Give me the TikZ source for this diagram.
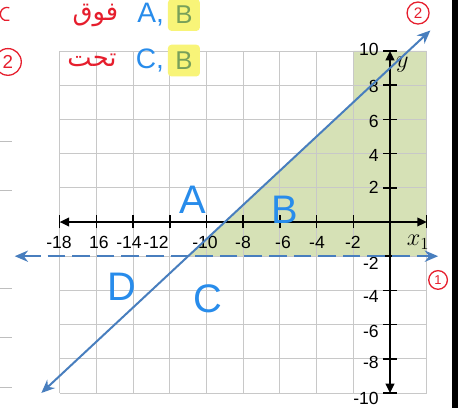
\documentclass[tikz,border=0pt]{standalone}
\usepackage{fontspec}
\setmainfont{Liberation Sans}
\newfontfamily\arabicfont[Script=Arabic]{DejaVu Sans}
\TeXXeTstate=1
\usetikzlibrary{arrows.meta,positioning}
\definecolor{gridgray}{RGB}{200,200,200}
\definecolor{regiongreen}{RGB}{214,225,182}
\definecolor{lineblue}{RGB}{72,126,190}
\definecolor{penblue}{RGB}{40,140,235}
\definecolor{penred}{RGB}{230,30,45}
\definecolor{markyellow}{RGB}{248,244,120}
\definecolor{pengreen}{RGB}{120,160,90}
\definecolor{edgegray}{RGB}{190,190,190}

\begin{document}
\begin{tikzpicture}[
    x=0.5505cm, y=0.513cm,
    gridline/.style={draw=gridgray, line width=0.8pt},
    axisline/.style={line width=1.3pt, {Triangle[length=2.8mm, width=2.6mm]}-{Triangle[length=2.8mm, width=2.6mm]}},
    tickmark/.style={line width=1.3pt},
    boundary/.style={draw=lineblue, line width=1.7pt, {Stealth[length=4mm, width=3.4mm]}-{Stealth[length=4mm, width=3.4mm]}},
    region/.style={text=penblue, font=\fontsize{34}{34}\selectfont, inner sep=0pt},
    ticklabel/.style={font=\fontsize{15}{15}\selectfont, inner sep=0pt},
    pen/.style={text=penblue, font=\fontsize{24}{24}\selectfont, inner sep=1pt},
    marker/.style={fill=markyellow, text=pengreen, rounded corners=3pt, minimum width=0.96cm, minimum height=0.95cm, font=\fontsize{22}{22}\selectfont, inner sep=0pt},
    arabic/.style={text=penred, font=\arabicfont\fontsize{22}{22}\selectfont, inner sep=1pt},
    lineno/.style={circle, draw=penred, text=penred, line width=1.1pt, inner sep=0pt},
    node distance=2pt
]
\useasboundingbox[fill=white] (-21.253,-10.877) rectangle (3.706,12.982);

\fill[regiongreen] (-11,-2) -- (2,-2) -- (2,10) -- (-2,10) -- (-2,7) -- cycle;
\draw[gridline] (-18,-10) grid[xstep=2, ystep=2] (2,10);
\foreach \y in {4.68,1.87,-3.86,-6.73,-9.65}
  \draw[draw=edgegray, line width=0.8pt] (-21.3,\y) -- (-20.6,\y);

\coordinate (xl) at (-18,0);
\coordinate (xr) at (2,0);
\coordinate (yb) at (0,-10);
\coordinate (yt) at (0,10);
\draw[axisline] (xl) -- (xr);
\draw[axisline] (yb) -- (yt);
\foreach \x in {-18,-16,...,-2,2}
  \draw[tickmark] (\x,-0.38) -- (\x,0.38);
\foreach \y in {-10,-8,...,-2,2,4,...,10}
  \draw[tickmark] (-0.36,\y) -- (0.36,\y);

\foreach \pos/\txt [count=\i] in {-18.04/-18, -15.86/16, -14.22/-14, -12.75/-12, -10.08/-10, -8.01/-8, -5.83/-6, -3.98/-4, -2.02/-2}
  \node[ticklabel] (xlab\i) at (\pos,-1.17) {\txt};
\foreach \pos/\txt [count=\i] in {10.1/10, 7.95/8, 5.9/6, 3.9/4, 2.0/2, -2.4/-2, -4.33/-4, -6.4/-6, -8.2/-8, -10.3/-10}
  \node[ticklabel, anchor=east] (ylab\i) at (-0.6,\pos) {\txt};
\node[ticklabel, font=\fontsize{21}{21}\selectfont] (xname) at (1.53,-1.17) {$x_1$};
\node[ticklabel, font=\fontsize{21}{21}\selectfont] (yname) at (0.68,9.2) {$y$};

\coordinate (l1s) at (-20.45,-2);
\coordinate (l1e) at (2.62,-2);
\coordinate (l2s) at (-19,-10);
\coordinate (l2e) at (2.2,11.2);
\draw[boundary, dash pattern=on 15pt off 6pt] (l1s) -- (l1e);
\draw[boundary] (l2s) -- (l2e);

\node[region] (regA) at (-10.74,1.29) {A};
\node[region] (regB) at (-5.72,0.70) {B};
\node[region] (regC) at (-9.92,-4.5) {C};
\node[region] (regD) at (-14.6,-3.8) {D};

\node[marker] (markB1) at (-11.23,12.1) {B};
\node[pen, left=of markB1] (txtA) {A,};
\node[arabic, left=14pt of txtA] (wordUp) {\beginR فوق\endR};
\node[marker] (markB2) at (-11.23,9.44) {B};
\node[pen, left=of markB2] (txtC) {C,};
\node[arabic, left=14pt of txtC] (wordDown) {\beginR تحت\endR};

\coordinate (mk1) at (-20.87,12.16);
\draw[penred, line width=1.1pt] (mk1) ++(70:0.2cm) arc[start angle=70, end angle=290, radius=0.2cm];
\node[lineno, minimum size=0.8cm, font=\fontsize{16}{16}\selectfont] (num2a) at (-20.82,9.36) {2};
\node[lineno, minimum size=0.66cm, font=\fontsize{13}{13}\selectfont] (num2b) at (1.53,12.22) {2};
\node[lineno, minimum size=0.56cm, font=\fontsize{11}{11}\selectfont] (num1) at (2.62,-3.39) {1};

\fill[black] (3.38,-10.877) rectangle (3.706,12.982);
\end{tikzpicture}
\end{document}
